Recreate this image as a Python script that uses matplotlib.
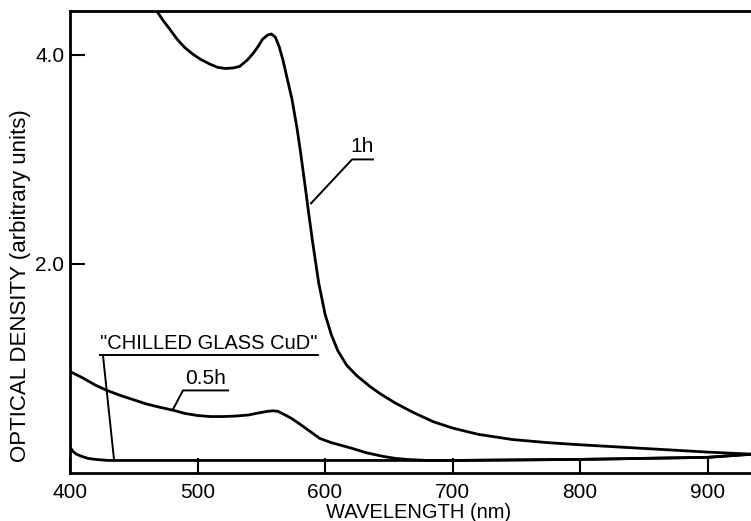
import numpy as np
import matplotlib
matplotlib.use("Agg")
import matplotlib.pyplot as plt

plt.rcParams['font.family'] = ['Liberation Sans', 'DejaVu Sans']

# 1 h anneal
wl_1h = [462, 468, 473, 478, 484, 490, 496, 502, 510, 516, 522, 528, 533, 539,
         544, 548, 551, 555, 558, 561, 564, 567, 570, 574, 578, 581, 584, 587,
         590, 595, 600, 605, 610, 617, 625, 635, 643, 655, 669, 685, 700, 720,
         747, 775, 800, 850, 900, 935]
od_1h = [4.55, 4.42, 4.33, 4.25, 4.15, 4.07, 4.01, 3.96, 3.91, 3.88, 3.87,
         3.875, 3.89, 3.95, 4.02, 4.09, 4.15, 4.19, 4.20, 4.17, 4.08, 3.95,
         3.79, 3.58, 3.30, 3.05, 2.78, 2.50, 2.23, 1.82, 1.52, 1.32, 1.17, 1.03,
         0.93, 0.83, 0.76, 0.67, 0.58, 0.49, 0.43, 0.37, 0.32, 0.29, 0.27,
         0.235, 0.20, 0.18]

# 0.5 h anneal
wl_05h = [400, 410, 420, 429, 440, 450, 460, 470, 481, 490, 500, 510, 520, 530,
          540, 548, 555, 559, 563, 568, 574, 580, 588, 596, 605, 620, 632, 645,
          655, 664, 680, 700, 800, 900, 935]
od_05h = [0.97, 0.91, 0.84, 0.79, 0.74, 0.70, 0.66, 0.63, 0.60, 0.57, 0.55,
          0.54, 0.54, 0.545, 0.555, 0.575, 0.59, 0.595, 0.59, 0.56, 0.52, 0.47,
          0.40, 0.33, 0.29, 0.24, 0.195, 0.16, 0.14, 0.13, 0.12, 0.12, 0.13,
          0.15, 0.18]

# chilled glass
wl_ch = [400, 402, 405, 409, 414, 420, 430, 500, 600, 700, 800, 900, 935]
od_ch = [0.25, 0.21, 0.18, 0.16, 0.14, 0.13, 0.12, 0.12, 0.12, 0.12, 0.13,
         0.15, 0.18]

xticks = [400, 500, 600, 700, 800, 900]
yticks = [2.0, 4.0]

fig = plt.figure(figsize=(7.51, 5.21), dpi=100)
ax = fig.add_axes([70 / 751, 1 - 473 / 521, 681 / 751, 462 / 521])

lw = 2.0
for wl, od in [(wl_1h, od_1h), (wl_05h, od_05h), (wl_ch, od_ch)]:
    ax.plot(wl, od, color='black', lw=lw, solid_joinstyle='round')

ax.set_xlim(400, 934)
ax.set_ylim(0, 4.42)

ax.spines['right'].set_visible(False)
for s in ['left', 'bottom', 'top']:
    ax.spines[s].set_linewidth(2)

ax.set_xticks(xticks)
ax.set_yticks(yticks)
ax.set_yticklabels(['2.0', '4.0'])
ax.tick_params(direction='in', length=11, width=1.5, labelsize=15, pad=4)
ax.tick_params(axis='x', pad=7)

ax.set_xlabel('WAVELENGTH (nm)', fontsize=14.5, labelpad=0)
ax.xaxis.set_label_coords(0.512, -0.066, transform=ax.transAxes)
ax.xaxis.label.set_va('top')
ax.set_ylabel('OPTICAL DENSITY (arbitrary units)', fontsize=16)
ax.yaxis.set_label_coords(-0.073, 0.405)
ax.yaxis.label.set_va('center')

# labels with leaders and underlines
ax.plot([589, 621.2, 637.6], [2.58, 3.00, 3.00], color='black', lw=1.4)
ax.text(629, 3.03, '1h', ha='center', va='bottom', fontsize=15)

ax.plot([480.8, 488.6, 523.9], [0.61, 0.79, 0.79], color='black', lw=1.4)
ax.text(506, 0.81, '0.5h', ha='center', va='bottom', fontsize=15)

ax.plot([434.5, 425.9], [0.13, 1.12], color='black', lw=1.4)
ax.plot([423.5, 594.5], [1.13, 1.13], color='black', lw=1.4)
ax.text(509, 1.15, '"CHILLED GLASS CuD"', ha='center', va='bottom', fontsize=14.5)

fig.savefig('out.png', dpi=100)
